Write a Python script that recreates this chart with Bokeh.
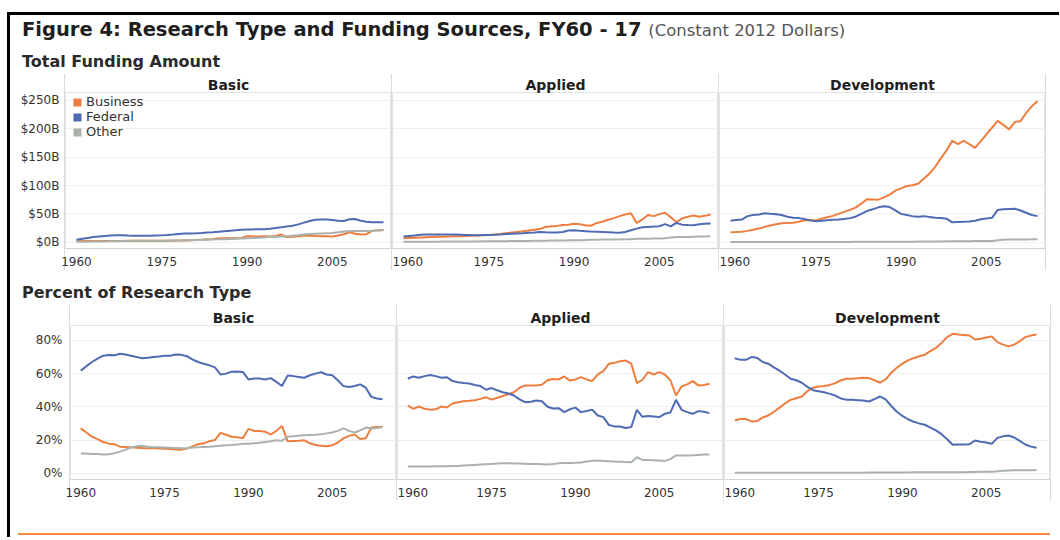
from bokeh.plotting import figure
from bokeh.models import (FixedTicker, PrintfTickFormatter, Div, Legend, LegendItem,
                          ColumnDataSource, Range1d)
from bokeh.layouts import column, row
from bokeh.embed import file_html
from bokeh.resources import INLINE

# ---------------- data ----------------
years = list(range(1960, 2015))
research_types = ["Basic", "Applied", "Development"]
sources = ["Business", "Federal", "Other"]
x_ticks = [1960, 1975, 1990, 2005]
amount_ticks = [0, 50, 100, 150, 200, 250]
percent_ticks = [0, 20, 40, 60, 80]

# Total funding amount, billions of constant 2012 dollars
amt_basic_business = [1.9, 2.0, 2.0, 2.1, 2.2, 2.2, 2.2, 2.3, 2.3, 2.4,
                      2.4, 2.4, 2.4, 2.5, 2.5, 2.6, 2.6, 2.7, 2.9, 3.1,
                      3.4, 3.9, 4.5, 5.1, 5.6, 7.0, 7.2, 7.0, 7.1, 7.3,
                      10.5, 10.3, 10.2, 10.4, 10.0, 11.0, 13.5, 9.2, 9.6, 10.5,
                      11.8, 11.2, 10.8, 10.6, 10.4, 10.2, 12.0, 14.0, 17.5, 15.0,
                      13.8, 14.2, 20.0, 21.0, 21.5]
amt_basic_federal = [4.5, 6.0, 7.5, 9.0, 10.0, 11.0, 12.0, 12.4, 12.2, 11.8,
                     11.5, 11.4, 11.3, 11.6, 12.0, 12.3, 12.8, 13.6, 14.5, 15.2,
                     15.5, 15.8, 16.3, 17.0, 17.5, 18.5, 19.5, 20.4, 21.2, 21.8,
                     22.4, 22.6, 22.8, 22.9, 23.8, 25.0, 26.2, 27.6, 29.0, 31.5,
                     34.5, 37.5, 39.5, 40.2, 40.0, 39.3, 37.8, 37.5, 40.5, 41.0,
                     38.0, 36.0, 35.0, 35.2, 35.0]
amt_basic_other = [0.8, 0.9, 1.0, 1.1, 1.2, 1.3, 1.5, 1.7, 2.0, 2.3,
                   2.5, 2.6, 2.6, 2.6, 2.6, 2.7, 2.8, 3.0, 3.1, 3.3,
                   3.5, 3.7, 4.0, 4.3, 4.6, 5.0, 5.4, 5.8, 6.3, 6.7,
                   7.1, 7.5, 8.0, 8.5, 9.0, 9.6, 10.0, 10.5, 11.5, 12.5,
                   13.8, 14.5, 15.0, 15.5, 15.9, 16.2, 17.5, 19.0, 19.5, 19.8,
                   19.6, 19.9, 20.3, 20.8, 21.2]
amt_applied_business = [7.2, 7.6, 8.0, 8.4, 8.8, 9.2, 9.5, 9.8, 10.1, 10.4,
                        10.6, 10.8, 11.2, 11.8, 12.2, 12.8, 13.5, 14.6, 15.8, 17.0,
                        18.2, 19.2, 20.5, 22.0, 23.2, 27.0, 28.0, 28.8, 30.5, 31.0,
                        32.4, 31.5, 30.0, 29.0, 34.0, 36.0, 39.5, 42.5, 46.0, 49.0,
                        51.0, 34.0, 40.0, 48.0, 46.0, 49.5, 52.0, 44.0, 35.0, 42.0,
                        45.0, 47.0, 45.0, 46.5, 49.0]
amt_applied_federal = [10.0, 11.0, 12.0, 13.0, 13.5, 13.6, 13.7, 13.7, 13.6, 13.5,
                       13.3, 12.9, 12.5, 12.4, 12.6, 12.9, 13.2, 13.8, 14.5, 15.0,
                       15.4, 15.8, 16.5, 17.2, 18.0, 17.6, 17.3, 17.0, 18.0, 20.5,
                       21.0, 20.2, 19.5, 18.8, 18.5, 18.2, 17.6, 17.0, 16.5, 18.0,
                       21.0, 24.0, 26.5, 27.0, 27.5, 28.2, 31.8, 28.0, 34.0, 31.0,
                       30.2, 30.0, 31.5, 32.5, 33.0]
amt_applied_other = [0.7, 0.75, 0.8, 0.85, 0.9, 0.95, 1.0, 1.05, 1.1, 1.15,
                     1.2, 1.3, 1.35, 1.4, 1.5, 1.6, 1.7, 1.8, 1.9, 2.0,
                     2.1, 2.2, 2.3, 2.4, 2.5, 2.6, 2.8, 3.0, 3.2, 3.3,
                     3.5, 3.6, 3.8, 4.2, 4.4, 4.6, 4.7, 4.8, 4.9, 5.0,
                     5.2, 6.2, 6.0, 6.3, 6.5, 6.6, 7.0, 8.5, 9.0, 9.2,
                     9.4, 9.7, 10.0, 10.2, 10.5]
amt_dev_business = [17.6, 18.0, 18.5, 20.0, 22.0, 24.0, 27.0, 29.5, 31.5, 33.5,
                    34.0, 34.5, 36.0, 38.5, 39.0, 38.5, 41.5, 44.0, 46.5, 50.0,
                    53.5, 57.0, 61.0, 68.0, 76.0, 75.5, 75.0, 79.0, 84.0, 91.0,
                    95.0, 99.0, 100.5, 103.0, 112.0, 121.0, 133.0, 148.0, 162.0, 179.0,
                    173.0, 179.0, 173.0, 166.5, 178.0, 190.0, 202.0, 214.0, 207.0, 199.0,
                    212.0, 213.5, 228.0, 240.0, 249.0]
amt_dev_federal = [38.0, 39.0, 40.0, 46.0, 48.0, 49.0, 51.0, 50.0, 49.5, 48.0,
                   45.0, 43.0, 42.5, 41.0, 38.5, 37.0, 37.8, 38.8, 39.5, 40.0,
                   41.0, 42.5, 45.0, 50.0, 55.0, 58.0, 61.5, 63.5, 62.0, 56.0,
                   50.0, 48.0, 46.0, 45.0, 46.0, 44.5, 43.0, 42.5, 41.5, 35.0,
                   35.5, 36.0, 36.5, 38.0, 40.5, 42.0, 43.0, 57.0, 58.0, 58.5,
                   59.0, 56.0, 52.0, 48.0, 46.0]
amt_dev_other = [0.2, 0.2, 0.2, 0.2, 0.2, 0.2, 0.2, 0.2, 0.2, 0.2,
                 0.2, 0.2, 0.3, 0.3, 0.3, 0.3, 0.3, 0.4, 0.4, 0.4,
                 0.5, 0.5, 0.6, 0.6, 0.7, 0.7, 0.8, 0.8, 0.9, 0.9,
                 1.0, 1.0, 1.0, 1.1, 1.1, 1.2, 1.3, 1.4, 1.5, 1.6,
                 1.7, 1.8, 1.9, 2.0, 2.0, 2.1, 2.3, 3.5, 4.5, 4.6,
                 4.7, 4.8, 4.9, 5.0, 5.2]

# Percent of research type
pct_basic_business = [27.0, 24.5, 22.0, 20.5, 18.8, 17.8, 17.5, 16.0, 15.8, 15.7,
                      15.4, 15.2, 15.1, 15.0, 14.9, 14.7, 14.6, 14.3, 14.2, 14.8,
                      16.2, 17.5, 18.0, 19.2, 20.0, 24.3, 23.2, 22.0, 21.6, 21.0,
                      26.7, 25.5, 25.4, 25.0, 23.3, 25.5, 28.5, 19.3, 19.4, 19.5,
                      19.8, 18.0, 17.0, 16.6, 16.2, 16.8, 18.5, 21.0, 22.5, 23.3,
                      20.6, 21.0, 27.5, 27.8, 28.0]
pct_basic_federal = [61.8, 64.5, 67.0, 69.0, 70.8, 71.2, 71.0, 72.0, 71.5, 70.8,
                     70.0, 69.3, 69.5, 70.0, 70.3, 70.8, 70.8, 71.5, 71.3, 70.5,
                     68.5, 67.0, 66.0, 65.0, 63.8, 59.5, 60.0, 61.2, 61.3, 61.0,
                     56.5, 57.0, 57.0, 56.5, 57.3, 55.0, 52.5, 58.8, 58.5, 58.0,
                     57.5, 59.0, 60.0, 60.8, 59.5, 59.0, 56.0, 52.5, 52.0, 52.5,
                     53.5, 51.5, 46.0, 45.0, 44.5]
pct_basic_other = [11.8, 11.8, 11.6, 11.5, 11.3, 11.4, 12.0, 13.0, 14.2, 15.5,
                   16.2, 16.5, 16.0, 15.7, 15.7, 15.5, 15.3, 15.2, 15.0, 15.2,
                   15.5, 15.6, 15.8, 16.0, 16.2, 16.5, 16.8, 17.0, 17.3, 17.8,
                   17.8, 18.0, 18.3, 18.8, 19.2, 19.8, 19.5, 22.0, 22.2, 22.5,
                   22.8, 23.0, 23.2, 23.5, 24.0, 24.5, 25.5, 27.0, 25.5, 24.5,
                   25.8, 27.5, 27.0, 27.3, 27.8]
pct_applied_business = [40.8, 38.8, 40.2, 38.8, 38.3, 38.5, 40.2, 39.6, 42.0, 42.8,
                        43.4, 43.6, 44.0, 44.8, 45.8, 44.3, 45.5, 46.5, 47.6, 48.8,
                        51.5, 52.9, 52.8, 52.9, 53.3, 56.0, 56.8, 56.5, 58.3, 55.8,
                        56.5, 57.9, 56.5, 55.5, 59.5, 61.5, 66.0, 66.5, 67.5, 67.9,
                        66.0, 54.3, 56.3, 60.9, 59.5, 60.9, 59.5, 56.0, 46.8, 52.3,
                        53.5, 55.5, 52.9, 53.2, 53.9]
pct_applied_federal = [56.9, 58.3, 57.5, 58.5, 59.2, 58.5, 57.5, 57.8, 55.5, 54.8,
                       54.3, 54.0, 53.2, 52.5, 50.3, 51.3, 50.0, 48.8, 48.0, 46.8,
                       44.5, 42.8, 43.0, 43.8, 43.4, 40.0, 39.0, 39.2, 36.8, 38.5,
                       39.5, 36.8, 37.5, 38.3, 34.8, 33.8, 29.0, 28.2, 28.1, 27.2,
                       27.8, 38.2, 34.0, 34.5, 34.2, 33.8, 35.8, 36.6, 44.2, 38.2,
                       36.8, 35.8, 37.4, 37.0, 36.2]
pct_applied_other = [4.0, 4.0, 4.0, 4.1, 4.1, 4.2, 4.2, 4.2, 4.3, 4.4,
                     4.6, 4.8, 5.0, 5.2, 5.4, 5.6, 5.8, 6.0, 6.0, 5.9,
                     5.8, 5.7, 5.6, 5.5, 5.4, 5.3, 5.6, 6.0, 6.2, 6.2,
                     6.3, 6.5, 7.0, 7.5, 7.6, 7.4, 7.2, 7.0, 6.9, 6.8,
                     6.6, 9.6, 8.0, 8.0, 7.8, 7.6, 7.4, 8.5, 10.7, 10.7,
                     10.7, 10.8, 11.0, 11.2, 11.3]
pct_dev_business = [31.8, 32.6, 32.6, 31.2, 31.4, 33.6, 34.8, 37.0, 39.5, 42.0,
                    44.2, 45.2, 46.2, 49.5, 51.5, 52.3, 52.6, 53.2, 54.3, 56.0,
                    56.9, 56.9, 57.2, 57.5, 57.3, 56.0, 54.5, 56.5, 60.5, 63.5,
                    66.0, 68.0, 69.3, 70.5, 71.4, 73.5, 75.5, 78.5, 82.0, 84.0,
                    83.6, 83.3, 83.0, 80.6, 81.0, 81.8, 82.4, 79.0, 77.5, 76.4,
                    77.5, 79.5, 82.0, 83.0, 83.6]
pct_dev_federal = [69.3, 68.3, 68.3, 70.0, 69.5, 67.0, 66.0, 63.8, 61.8, 59.5,
                   56.9, 56.0, 54.5, 52.0, 50.0, 49.4, 48.8, 47.8, 46.8, 45.0,
                   44.2, 44.2, 44.0, 43.8, 43.2, 44.6, 46.2, 44.5, 40.5, 37.0,
                   34.5, 32.5, 31.0, 30.0, 29.2, 27.5, 25.8, 23.5, 20.5, 17.1,
                   17.3, 17.3, 17.5, 19.7, 19.0, 18.5, 17.7, 21.3, 22.2, 22.7,
                   21.5, 19.5, 17.3, 16.0, 15.3]
pct_dev_other = [0.3, 0.3, 0.3, 0.3, 0.3, 0.3, 0.3, 0.3, 0.3, 0.3,
                 0.3, 0.3, 0.3, 0.3, 0.3, 0.3, 0.3, 0.3, 0.3, 0.3,
                 0.3, 0.3, 0.3, 0.3, 0.4, 0.4, 0.4, 0.4, 0.4, 0.4,
                 0.4, 0.4, 0.5, 0.5, 0.5, 0.5, 0.5, 0.5, 0.5, 0.6,
                 0.6, 0.6, 0.7, 0.7, 0.8, 0.8, 0.9, 1.2, 1.5, 1.6,
                 1.7, 1.7, 1.8, 1.8, 1.9]

amounts = {
    "Basic": {"Business": amt_basic_business, "Federal": amt_basic_federal, "Other": amt_basic_other},
    "Applied": {"Business": amt_applied_business, "Federal": amt_applied_federal, "Other": amt_applied_other},
    "Development": {"Business": amt_dev_business, "Federal": amt_dev_federal, "Other": amt_dev_other},
}
percents = {
    "Basic": {"Business": pct_basic_business, "Federal": pct_basic_federal, "Other": pct_basic_other},
    "Applied": {"Business": pct_applied_business, "Federal": pct_applied_federal, "Other": pct_applied_other},
    "Development": {"Business": pct_dev_business, "Federal": pct_dev_federal, "Other": pct_dev_other},
}

# ---------------- styling ----------------
COLORS = {"Business": "#EE7E3F", "Federal": "#4E6BB3", "Other": "#A9B3AC"}
FONT = "DejaVu Sans"
SEP = "#dcdcdc"
TICK_COLOR = "#333333"


def make_panel(title, data, width, height, left, top, bottom, x_rng, y_rng,
               yticks, yfmt, show_y, y_standoff, legend=False):
    p = figure(width=width, height=height, title=title,
               x_range=Range1d(*x_rng), y_range=Range1d(*y_rng),
               output_backend="svg", toolbar_location=None,
               y_axis_location="left" if show_y else None,
               min_border_left=left, min_border_right=0,
               min_border_top=top, min_border_bottom=bottom)
    p.title.align = "center"
    p.title.text_font = FONT
    p.title.text_font_size = "14px"
    p.title.text_font_style = "bold"
    p.title.text_color = "#1e1e1e"
    p.title.standoff = 0
    p.outline_line_color = "#e4e4e4"
    p.background_fill_color = "white"

    p.xgrid.visible = False
    p.ygrid.ticker = FixedTicker(ticks=yticks)
    p.ygrid.grid_line_color = "#efefef"

    xa = p.xaxis[0]
    xa.ticker = FixedTicker(ticks=x_ticks)
    xa.major_tick_line_color = None
    xa.minor_tick_line_color = None
    xa.axis_line_color = "#d2d2d2"
    xa.major_label_standoff = 2
    xa.major_label_text_font = FONT
    xa.major_label_text_font_size = "12px"
    xa.major_label_text_color = TICK_COLOR

    if show_y:
        ya = p.yaxis[0]
        ya.ticker = FixedTicker(ticks=yticks)
        ya.formatter = PrintfTickFormatter(format=yfmt)
        ya.major_tick_line_color = None
        ya.minor_tick_line_color = None
        ya.axis_line_color = None
        ya.major_label_standoff = y_standoff
        ya.major_label_text_font = FONT
        ya.major_label_text_font_size = "12px"
        ya.major_label_text_color = TICK_COLOR

    for s in sources:
        src = ColumnDataSource(dict(x=years, y=data[s]))
        p.line("x", "y", source=src, line_color=COLORS[s], line_width=2)

    if legend:
        items = []
        for s in sources:
            # hidden renderer used only to draw the square swatch in the legend
            r = p.quad(left=years, right=years, top=data[s], bottom=data[s],
                       fill_color=COLORS[s], line_color=None, visible=False)
            items.append(LegendItem(label=s, renderers=[r]))
        lg = Legend(items=items, location=(7, 109), margin=0, padding=0, spacing=-1,
                    glyph_width=10, glyph_height=10, label_height=14, label_standoff=4,
                    label_text_font=FONT, label_text_font_size="13px",
                    label_text_color=TICK_COLOR,
                    background_fill_alpha=0, border_line_color=None)
        p.add_layout(lg)
    return p


def box(w, h, color=None):
    st = {"background-color": color} if color else {}
    return Div(text="", width=w, height=h, styles=st, margin=0)


def left_line_styles(px):
    return {"background": "linear-gradient(to right, #ffffff 0px, #ffffff %dpx, %s %dpx, %s %dpx, #ffffff %dpx)"
            % (px - 1, SEP, px - 1, SEP, px, px)}


# ---------- panels ----------
TOP_X = (1958.07, 2015.4)
BOT_X = (1958.16, 2016.5)
top_figs = []
for i, t in enumerate(research_types):
    first = i == 0
    p = make_panel(t, amounts[t], 381 if first else 326, 196, 55 if first else 0, 18, 22,
                   TOP_X, (-11.1, 264.1), amount_ticks, "$%dB", first, 0, legend=first)
    if first:
        p.border_fill_color = None
        p.styles = left_line_styles(55)
    top_figs.append(p)

bot_figs = []
for i, t in enumerate(research_types):
    first = i == 0
    p = make_panel(t, percents[t], 386 if first else 326, 196, 60 if first else 0, 20, 22,
                   BOT_X, (-3.8, 89.0), percent_ticks, "%d%%", first, 2)
    if first:
        p.border_fill_color = None
        p.styles = left_line_styles(60)
    bot_figs.append(p)

top_row = row(top_figs[0], box(1, 196, SEP), top_figs[1], box(1, 196, SEP),
              top_figs[2], box(1, 196, SEP), spacing=0)
bot_row = row(bot_figs[0], box(1, 196, SEP), bot_figs[1], box(1, 196, SEP),
              bot_figs[2], box(1, 196, SEP), spacing=0)

title_div = Div(width=1040, height=30, margin=0, text=(
    '<div style="font-family:\'DejaVu Sans\';font-size:19.5px;font-weight:bold;color:#1e1e1e;'
    'line-height:30px;padding-left:12px;white-space:nowrap;margin:0">'
    'Figure 4: Research Type and Funding Sources, FY60 - 17 '
    '<span style="font-weight:normal;font-size:16.5px;color:#555555">(Constant 2012 Dollars)</span>'
    '</div>'))
sub1 = Div(width=1040, height=29, margin=0, text=(
    '<div style="font-family:\'DejaVu Sans\';font-size:16px;font-weight:bold;color:#2a2a2a;'
    'line-height:25px;padding-top:4px;padding-left:12px;white-space:nowrap;margin:0">'
    'Total Funding Amount</div>'))
sub2 = Div(width=1040, height=35, margin=0, text=(
    '<div style="font-family:\'DejaVu Sans\';font-size:16px;font-weight:bold;color:#2a2a2a;'
    'line-height:24px;padding-top:11px;padding-left:12px;white-space:nowrap;margin:0">'
    'Percent of Research Type</div>'))

orange_row = row(box(8, 2), box(1032, 2, "#F58A4B"), spacing=0)

inner = column(title_div, sub1, top_row, sub2, bot_row, box(10, 32), orange_row, spacing=0)
framed = column(box(1052, 3, "#000000"),
                row(box(3, 522, "#000000"), inner, spacing=0), spacing=0)
layout = column(box(10, 12), row(box(7, 10), framed, spacing=0), spacing=0)

open("out.html", "w").write(file_html(layout, INLINE))
